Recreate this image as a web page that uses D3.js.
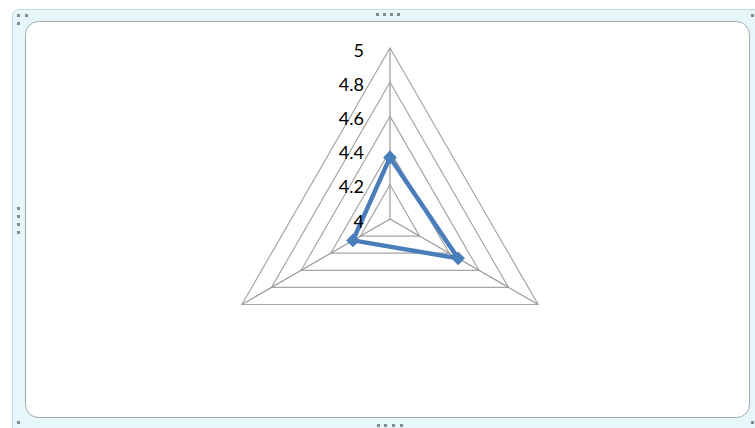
<!DOCTYPE html>
<html>
<head>
<meta charset="utf-8">
<script src="https://cdn.jsdelivr.net/npm/d3@7"></script>
<style>
  body { margin: 0; background: #fff; }
  svg { display: block; }
</style>
</head>
<body>
<div id="chart"></div>
<script>
// Data
const categories = ["1", "2", "3"];
const values = [4.36, 4.46, 4.25];
const tickValues = [4, 4.2, 4.4, 4.6, 4.8, 5];

const width = 755, height = 428;
const cx = 390, cy = 219, radius = 171;

const svg = d3.select("#chart")
  .append("svg")
  .attr("width", width)
  .attr("height", height);

// Chart frame (selected chart look)
svg.append("rect")
  .attr("x", 12.5).attr("y", 9.5)
  .attr("width", 770).attr("height", 430)
  .attr("rx", 6)
  .attr("fill", "#e6f7fa")
  .attr("stroke", "#c3dbe0");

svg.append("rect")
  .attr("x", 25.5).attr("y", 21.5)
  .attr("width", 724).attr("height", 396)
  .attr("rx", 13)
  .attr("fill", "#fff")
  .attr("stroke", "#a3abad");

// handles
const handles = [
  [17, 14], [25, 14], [17, 22],
  [376, 13], [383, 13], [390, 13], [397, 13],
  [17, 207], [17, 215], [17, 223], [17, 231],
  [377, 424], [384, 424], [392, 424], [400, 424],
  [751, 14], [751, 421], [17, 421]
];
svg.selectAll(".handle")
  .data(handles)
  .enter()
  .append("rect")
  .attr("x", d => d[0]).attr("y", d => d[1])
  .attr("width", 3).attr("height", 3)
  .attr("fill", "#7f8c90");

// Scales
const r = d3.scaleLinear().domain([4, 5]).range([0, radius]);
const angleOf = c => -Math.PI / 2 + categories.indexOf(c) * 2 * Math.PI / categories.length;

const px = (c, v) => cx + r(v) * Math.cos(angleOf(c));
const py = (c, v) => cy + r(v) * Math.sin(angleOf(c));

// Grid triangles
tickValues.slice(1).forEach(t => {
  svg.append("polygon")
    .attr("points", categories.map(c => [px(c, t), py(c, t)].join(",")).join(" "))
    .attr("fill", "none")
    .attr("stroke", "#a6a6a6")
    .attr("stroke-width", 1.2);
});

// Spokes
categories.forEach(c => {
  svg.append("line")
    .attr("x1", cx).attr("y1", cy)
    .attr("x2", px(c, 5)).attr("y2", py(c, 5))
    .attr("stroke", "#999")
    .attr("stroke-width", 1.2);
});

// Series line
const pts = categories.map((c, i) => [px(c, values[i]), py(c, values[i])]);
svg.append("path")
  .attr("d", d3.line().curve(d3.curveLinearClosed)(pts))
  .attr("fill", "none")
  .attr("stroke", "#4a7ebb")
  .attr("stroke-width", 4.5)
  .attr("stroke-linejoin", "round");

// Diamond markers
svg.selectAll(".marker")
  .data(pts)
  .enter()
  .append("path")
  .attr("d", d3.symbol().type(d3.symbolDiamond2).size(120))
  .attr("transform", d => `translate(${d[0]},${d[1]})`)
  .attr("fill", "#4a7ebb");

// Tick labels (drawn on top)
svg.selectAll(".tick-label")
  .data(tickValues)
  .enter()
  .append("text")
  .attr("x", 364)
  .attr("y", d => cy - r(d) + 4)
  .attr("text-anchor", "end")
  .attr("dominant-baseline", "middle")
  .attr("font-family", "Lato, 'Liberation Sans', sans-serif")
  .attr("font-size", 18)
  .attr("fill", "#000")
  .text(d => d);
</script>
</body>
</html>
